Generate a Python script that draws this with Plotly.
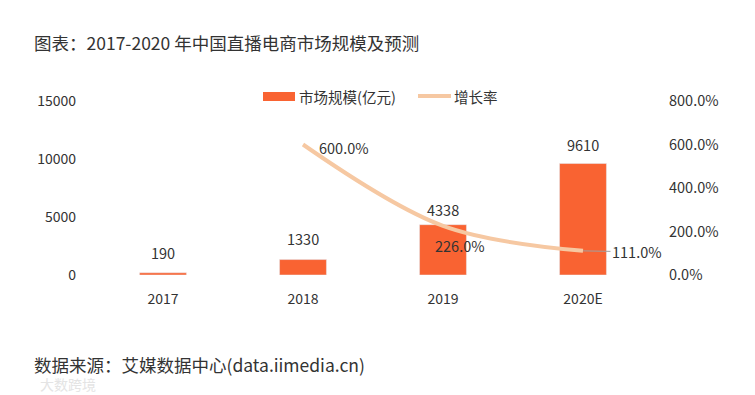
import plotly.graph_objects as go

years = ["2017", "2018", "2019", "2020E"]
market_size = [190, 1330, 4338, 9610]
growth_rate = [None, 6.00, 2.26, 1.11]
growth_labels = ["", "600.0%", "226.0%", "111.0%"]

FONT = "Noto Sans CJK SC, Noto Sans, sans-serif"
TXT = "#333333"
BAR_C = "#F96332"
LINE_C = "#F6C8A2"

# plot area in pixels
L, R, T, B = 93, 653, 101, 275
PW, PH = R - L, B - T


def px(x):
    return (x - L) / PW


def py(y):
    return (B - y) / PH


fig = go.Figure()
fig.add_trace(go.Bar(
    x=years, y=market_size, name="市场规模(亿元)",
    marker=dict(color=BAR_C), width=0.335, yaxis="y",
))
fig.add_trace(go.Scatter(
    x=years, y=growth_rate, name="增长率", mode="lines",
    line=dict(color=LINE_C, width=4, shape="spline", smoothing=1.0),
    yaxis="y2", connectgaps=False,
))

# bar value labels (pixel offsets above bar tops)
bar_shift = [20, 21, 15, 19]
for i, (v, s) in enumerate(zip(market_size, bar_shift)):
    fig.add_annotation(x=i, y=v, xref="x", yref="y", text=str(v), showarrow=False,
                       yshift=s, font=dict(size=14.5, color=TXT, family=FONT))

# growth labels
g_xshift = [0, 41, 17, 0]
g_yshift = [0, -3, -20, 0]
for i, (v, t, xs, ys) in enumerate(zip(growth_rate, growth_labels, g_xshift, g_yshift)):
    if v is None or i == 3:
        continue
    fig.add_annotation(x=i, y=v, xref="x", yref="y2", text=t, showarrow=False,
                       xshift=xs, yshift=ys, font=dict(size=14.5, color=TXT, family=FONT))
# last label with a thin grey leader line
fig.add_annotation(x=3, y=growth_rate[3], xref="x", yref="y2", text=growth_labels[3],
                   showarrow=True, arrowhead=0, arrowwidth=1, arrowcolor="#A0A0A0",
                   ax=54, ay=1, standoff=0, startstandoff=0,
                   font=dict(size=14.5, color=TXT, family=FONT))

# title, source, watermark
fig.add_annotation(xref="paper", yref="paper", x=px(32), y=py(42), xanchor="left",
                   yanchor="middle", text="图表：2017-2020 年中国直播电商市场规模及预测",
                   showarrow=False, font=dict(size=17.5, color=TXT, family=FONT))
fig.add_annotation(xref="paper", yref="paper", x=px(32), y=py(364), xanchor="left",
                   yanchor="middle", text="数据来源：艾媒数据中心(data.iimedia.cn)",
                   showarrow=False, font=dict(size=17.5, color=TXT, family=FONT))
fig.add_annotation(xref="paper", yref="paper", x=px(38), y=py(384), xanchor="left",
                   yanchor="middle", text="大数跨境", showarrow=False,
                   font=dict(size=14, color="#E4E4E4", family=FONT))

# manual legend
fig.add_shape(type="rect", xref="paper", yref="paper",
              x0=px(263), x1=px(295), y0=py(101), y1=py(92),
              fillcolor=BAR_C, line=dict(width=0))
fig.add_annotation(xref="paper", yref="paper", x=px(297), y=py(96), xanchor="left",
                   yanchor="middle", text="市场规模(亿元)", showarrow=False,
                   font=dict(size=14.5, color=TXT, family=FONT))
fig.add_shape(type="line", xref="paper", yref="paper",
              x0=px(418), x1=px(451), y0=py(96), y1=py(96),
              line=dict(color=LINE_C, width=4))
fig.add_annotation(xref="paper", yref="paper", x=px(452), y=py(96), xanchor="left",
                   yanchor="middle", text="增长率", showarrow=False,
                   font=dict(size=14.5, color=TXT, family=FONT))

fig.update_layout(
    width=755, height=395,
    margin=dict(l=L, r=755 - R, t=T, b=395 - B),
    paper_bgcolor="white", plot_bgcolor="white",
    font=dict(family=FONT, size=14, color=TXT),
    showlegend=False,
    xaxis=dict(type="category", range=[-0.5, 3.5], showgrid=False, showline=False,
               ticks="", zeroline=False, tickfont=dict(size=14, color=TXT),
               ticklabelstandoff=14),
    yaxis=dict(range=[0, 15000], tickvals=[0, 5000, 10000, 15000], tickformat="d",
               showgrid=False, zeroline=False, showline=False,
               tickfont=dict(size=14, color=TXT), ticklabelstandoff=16),
    yaxis2=dict(range=[0, 8], tickvals=[0, 2, 4, 6, 8], tickformat=".1%",
                overlaying="y", side="right", showgrid=False, zeroline=False,
                showline=False, tickfont=dict(size=14.5, color=TXT),
                ticklabelstandoff=15),
)

fig.write_html("out.html", config={"displayModeBar": False},
               post_script="document.body.style.margin='0';document.body.style.overflow='hidden';")
